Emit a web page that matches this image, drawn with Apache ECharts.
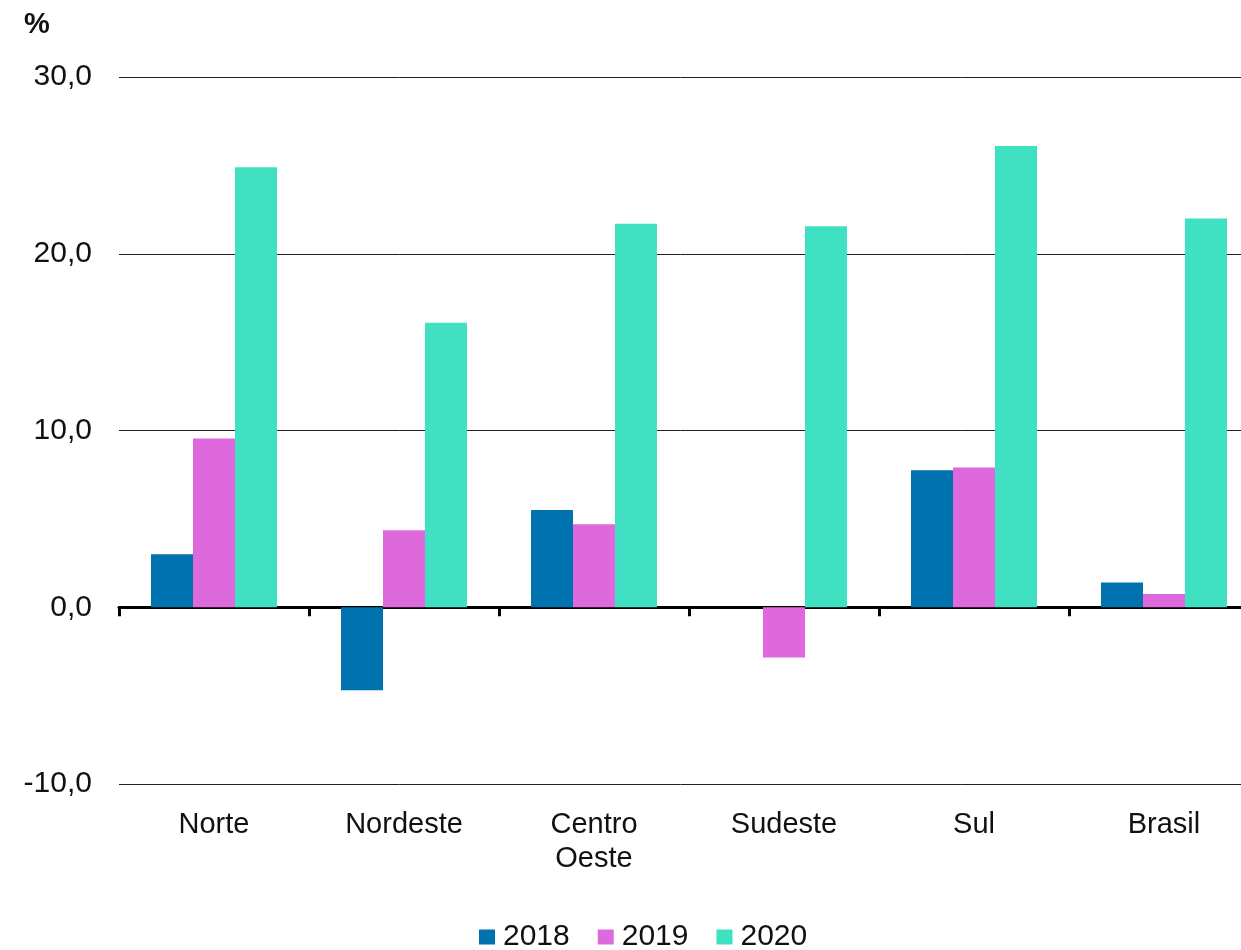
<!DOCTYPE html>
<html>
<head>
  <meta charset="utf-8">
  <title>Regiões</title>
  <script src="https://cdn.jsdelivr.net/npm/echarts@6/dist/echarts.min.js"></script>
  <style>
    body { margin: 0; padding: 0; background: #fff; }
    #main { width: 1241px; height: 950px; }
  </style>
</head>
<body>
<div id="main"></div>
<script>
  // categorias e valores (%)
  var categories = ['Norte', 'Nordeste', 'Centro\nOeste', 'Sudeste', 'Sul', 'Brasil'];
  var years = ['2018', '2019', '2020'];
  var v2018 = [3.0, -4.7, 5.5, 0.0, 7.75, 1.4];
  var v2019 = [9.55, 4.35, 4.7, -2.85, 7.9, 0.75];
  var v2020 = [24.9, 16.1, 21.7, 21.55, 26.1, 22.0];
  var colors = ['#0072B0', '#DE69DC', '#40E0C3'];
  var yTicks = { min: -10, max: 30, step: 10 };

  var font = 'Liberation Sans, Arial, sans-serif';
  var seriesData = [v2018, v2019, v2020];

  var chart = echarts.init(document.getElementById('main'));
  chart.setOption({
    animation: false,
    color: colors,
    textStyle: { fontFamily: font },
    graphic: [{
      type: 'text', left: 24, top: 10,
      style: { text: '%', font: 'bold 29px ' + font, fill: '#111' }
    }],
    legend: {
      bottom: -7, left: 474,
      icon: 'rect',
      itemWidth: 16, itemHeight: 15, itemGap: 28,
      textStyle: { fontSize: 30, color: '#111', fontFamily: font, padding: [0, 0, 0, 3] },
      data: years
    },
    // a grade passa da borda direita, como no original
    grid: { left: 119, width: 1140, top: 77, bottom: 166, outerBoundsMode: 'none' },
    xAxis: [{
      type: 'category', data: categories,
      axisLine: { onZero: true, lineStyle: { color: '#000', width: 3 } },
      axisTick: { show: true, length: 9, lineStyle: { color: '#000', width: 3 } },
      axisLabel: { show: false }
    }, {
      type: 'category', data: categories, position: 'bottom',
      axisLine: { show: false, onZero: false },
      axisTick: { show: false },
      axisLabel: { margin: 24, fontSize: 29, color: '#111', lineHeight: 34, fontFamily: font }
    }],
    yAxis: {
      type: 'value', min: yTicks.min, max: yTicks.max, interval: yTicks.step,
      axisLine: { show: false }, axisTick: { show: false },
      axisLabel: {
        margin: 27, fontSize: 30, color: '#111', fontFamily: font,
        formatter: function (v) { return v.toFixed(1).replace('.', ','); }
      },
      splitLine: { lineStyle: { color: '#222', width: 1 } }
    },
    series: years.map(function (y, i) {
      return {
        name: y, type: 'bar', xAxisIndex: 0,
        data: seriesData[i],
        barGap: '0%', barCategoryGap: '33.7%'
      };
    })
  });
</script>
</body>
</html>
